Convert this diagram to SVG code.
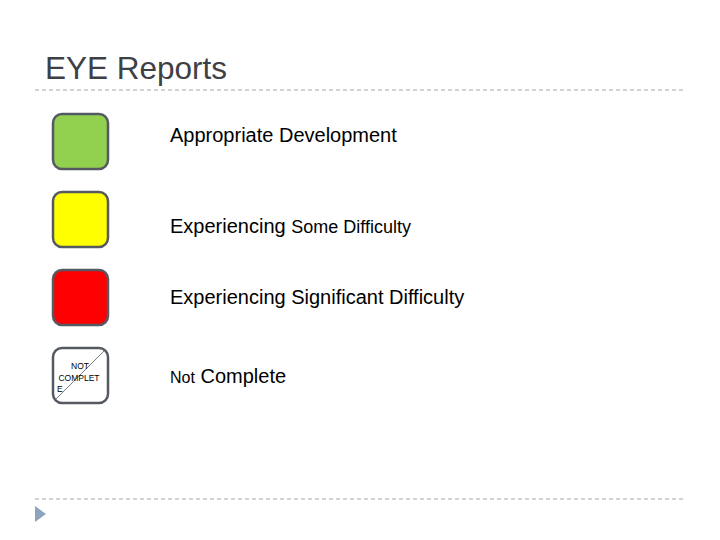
<svg xmlns="http://www.w3.org/2000/svg" width="720" height="540" viewBox="0 0 720 540">
<style>
.box{stroke:#555a62;stroke-width:2.5}
.lbl{font-family:"Liberation Sans",Arial,sans-serif;font-size:20px;fill:#000}
.sm{font-size:18px}
.xs{font-size:16px}
.dash{stroke:#a6a6a6;stroke-width:1;stroke-dasharray:4 3;fill:none}
.tiny{font-family:"Liberation Sans",Arial,sans-serif;font-size:8.5px;fill:#000}
</style>
<rect width="720" height="540" fill="#fff"/>
<text x="45" y="79" font-family="Liberation Sans,Arial,sans-serif" font-size="31.5" fill="#3f3f46">EYE Reports</text>
<g id="connectors">
<line class="dash" x1="35" y1="90" x2="686" y2="90"/>
<line class="dash" x1="35" y1="499" x2="686" y2="499"/>
</g>
<polygon points="35,506 46,514 35,522" fill="#8da4bd"/>
<g id="green">
<rect class="box" x="53" y="114" width="55" height="55" rx="9" fill="#92d050"/>
<text class="lbl" x="170" y="142">Appropriate Development</text>
</g>
<g id="yellow">
<rect class="box" x="53" y="192" width="55" height="55" rx="9" fill="#ffff00"/>
<text class="lbl" x="170" y="233">Experiencing <tspan class="sm">Some Difficulty</tspan></text>
</g>
<g id="red">
<rect class="box" x="53" y="270" width="55" height="55" rx="9" fill="#ff0000"/>
<text class="lbl" x="170" y="304">Experiencing Significant Difficulty</text>
</g>
<g id="notcomplete">
<rect class="box" x="53" y="348" width="55" height="55" rx="9" fill="#ffffff"/>
<line x1="104" y1="351" x2="56" y2="399" stroke="#555a62" stroke-width="0.8"/>
<text class="tiny" x="80" y="369" text-anchor="middle">NOT</text>
<text class="tiny" x="79" y="381" text-anchor="middle">COMPLET</text>
<text class="tiny" x="57" y="392">E</text>
<text class="lbl" x="170" y="383"><tspan class="xs">Not</tspan> Complete</text>
</g>
</svg>
